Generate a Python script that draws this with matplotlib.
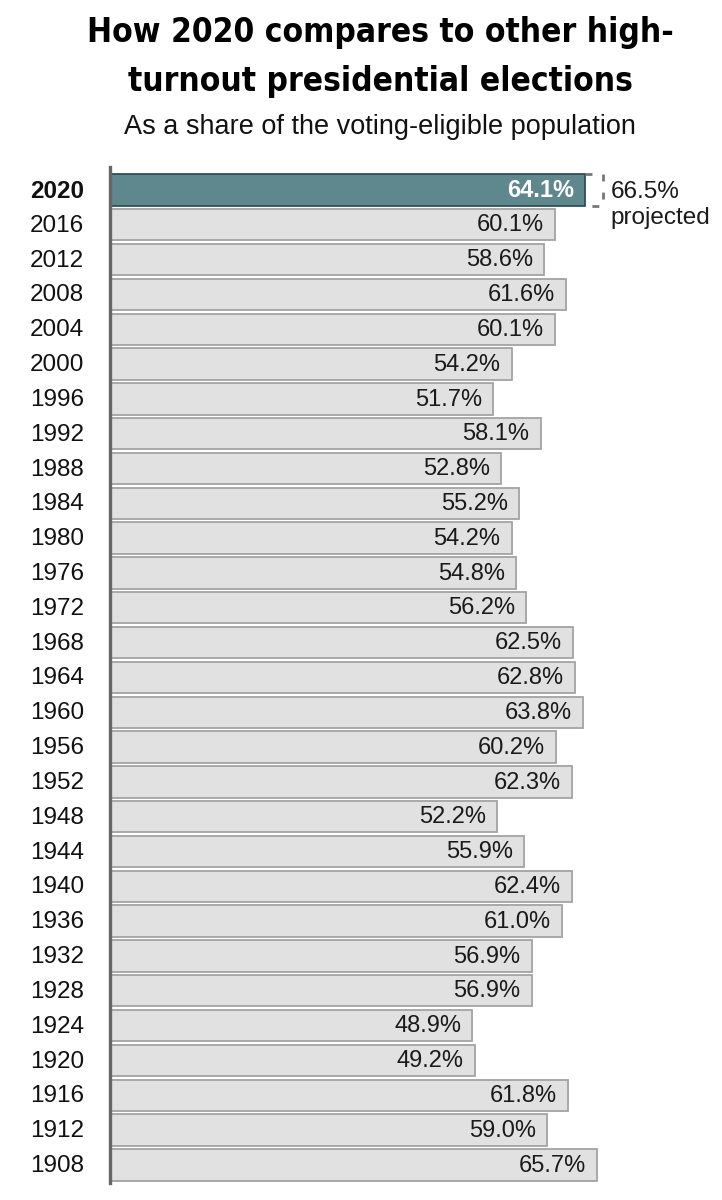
import matplotlib.pyplot as plt

years = [2020, 2016, 2012, 2008, 2004, 2000, 1996, 1992, 1988, 1984,
         1980, 1976, 1972, 1968, 1964, 1960, 1956, 1952, 1948, 1944,
         1940, 1936, 1932, 1928, 1924, 1920, 1916, 1912, 1908]
turnout = [64.1, 60.1, 58.6, 61.6, 60.1, 54.2, 51.7, 58.1, 52.8, 55.2,
           54.2, 54.8, 56.2, 62.5, 62.8, 63.8, 60.2, 62.3, 52.2, 55.9,
           62.4, 61.0, 56.9, 56.9, 48.9, 49.2, 61.8, 59.0, 65.7]
projected_2020 = 66.5

W, H = 722, 1200
fig = plt.figure(figsize=(W / 100, H / 100), dpi=100)

# axes placed in pixel terms: left spine at x=110, rows from y=167 to 1183
ax_left, ax_right = 110, 703
ax_top, ax_bot = 167, 1183
ax = fig.add_axes([ax_left / W, 1 - ax_bot / H, (ax_right - ax_left) / W, (ax_bot - ax_top) / H])
xmax = (ax_right - ax_left) / 7.41
ax.set_xlim(0, xmax)
ax.set_ylim(28.52, -0.66)

font = 'Liberation Sans'
for i, (yr, val) in enumerate(zip(years, turnout)):
    if i == 0:
        face, edge = '#5f888e', '#2f4f55'
    else:
        face, edge = '#e1e1e1', '#a3a3a3'
    ax.barh(i, val, height=0.9, color=face, edgecolor=edge, linewidth=1.3, zorder=2)
    ax.text(val - 1.5, i + 0.02, f'{val:.1f}%', ha='right', va='center',
            fontsize=17, family=font,
            color='white' if i == 0 else '#1a1a1a',
            fontweight='bold' if i == 0 else 'normal', zorder=3)
    fig.text(30 / W, 1 - (191 + 34.82 * i) / H, str(yr), ha='left', va='center',
             fontsize=17.5, family=font, color='#111111',
             fontweight='bold' if i == 0 else 'normal')

# projected 2020 turnout as a dashed outline
ax.plot([turnout[0], projected_2020, projected_2020, turnout[0]],
        [-0.45, -0.45, 0.45, 0.45], ls=(0, (2.5, 4)), color='#777777',
        lw=2, zorder=3, clip_on=False)
ax.text(projected_2020 + 1.1, -0.25, f'{projected_2020:.1f}%\nprojected',
        ha='left', va='top', fontsize=17.5, family=font, color='#1a1a1a',
        linespacing=1.2)

for s in ['top', 'right', 'bottom']:
    ax.spines[s].set_visible(False)
ax.spines['left'].set_color('#666666')
ax.spines['left'].set_linewidth(2.4)
ax.spines['left'].set_zorder(4)
ax.set_xticks([])
ax.set_yticks([])
ax.patch.set_alpha(0)

fig.text(380 / W, 1 - 57 / H, 'How 2020 compares to other high-\nturnout presidential elections',
         ha='center', va='center', fontsize=24, fontweight='heavy',
         family='DejaVu Sans', fontstretch='condensed', linespacing=1.65)
fig.text(380 / W, 1 - 127 / H, 'As a share of the voting-eligible population',
         ha='center', va='center', fontsize=19.5, family=font, color='#111111')

fig.savefig('out.png', dpi=100)
